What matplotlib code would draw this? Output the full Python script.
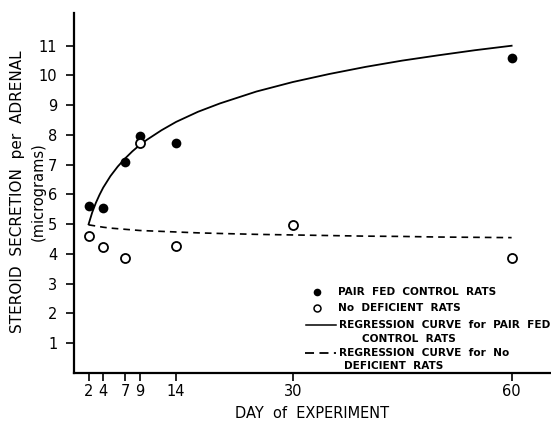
import matplotlib
matplotlib.use("Agg")
import matplotlib.pyplot as plt

# observed points
days_fed = [2, 4, 7, 9, 14, 60]
steroid_fed = [5.6, 5.55, 7.08, 7.95, 7.72, 10.6]
days_def = [2, 4, 7, 9, 14, 30, 60]
steroid_def = [4.62, 4.24, 3.87, 7.72, 4.26, 4.97, 3.85]

# regression curves
curve_days = [2, 2.5, 3, 3.5, 4, 5, 6, 7, 8, 9, 10, 12, 14, 17, 20, 25, 30,
              35, 40, 45, 50, 55, 60]
curve_fed = [5.0, 5.4, 5.72, 5.99, 6.23, 6.62, 6.94, 7.21, 7.45, 7.66, 7.84,
             8.16, 8.44, 8.78, 9.06, 9.46, 9.78, 10.05, 10.29, 10.5, 10.68,
             10.85, 11.0]
curve_def = [4.98, 4.96, 4.94, 4.92, 4.9, 4.87, 4.85, 4.83, 4.81, 4.79, 4.78,
             4.76, 4.74, 4.71, 4.69, 4.66, 4.64, 4.62, 4.6, 4.59, 4.57, 4.56,
             4.55]

xticks = [2, 4, 7, 9, 14, 30, 60]
yticks = [1, 2, 3, 4, 5, 6, 7, 8, 9, 10, 11]

plt.rcParams['font.family'] = ['DejaVu Sans']

fig = plt.figure(figsize=(5.51, 4.23), dpi=100)
ax = fig.add_axes([74 / 551, 50 / 423, 477 / 551, 360 / 423])
ax.set_xlim(0, 65.4)
ax.set_ylim(0, 12.1)

ax.plot(curve_days, curve_fed, color='black', lw=1.3)
ax.plot(curve_days, curve_def, color='black', lw=1.2, dashes=(4, 3))
ax.plot(days_fed, steroid_fed, 'o', color='black', ms=7, mew=0)
ax.plot(days_def, steroid_def, 'o', mfc='white', mec='black', ms=6.5, mew=1.3)

for s in ['top', 'right']:
    ax.spines[s].set_visible(False)
for s in ['left', 'bottom']:
    ax.spines[s].set_linewidth(1.6)

ax.set_xticks(xticks)
ax.set_xticklabels([str(d) for d in xticks])
ax.set_yticks(yticks)
ax.set_yticklabels([str(v) for v in yticks])
ax.tick_params(axis='both', direction='out', length=6, width=1.2, labelsize=10.5)
ax.tick_params(axis='x', pad=2)
ax.tick_params(axis='y', pad=6)

ax.set_xlabel('DAY  of  EXPERIMENT', fontsize=10.5, labelpad=5)
fig.text(18 / 551, 1 - 192 / 423, 'STEROID  SECRETION  per  ADRENAL', rotation=90,
         ha='center', va='center', fontsize=11)
fig.text(38 / 551, 1 - 192 / 423, '(micrograms)', rotation=90,
         ha='center', va='center', fontsize=10.5)

# legend, drawn by hand in figure pixels
def px(x, y):
    return x / 551, 1 - y / 423

fs = 7.6
fig.lines.append(plt.Line2D([px(317, 0)[0]], [px(0, 292)[1]], marker='o', color='black',
                            ms=5.5, mew=0, ls='none', transform=fig.transFigure))
fig.lines.append(plt.Line2D([px(317, 0)[0]], [px(0, 308)[1]], marker='o', mfc='white',
                            mec='black', ms=5, mew=1.1, ls='none', transform=fig.transFigure))
fig.lines.append(plt.Line2D([px(306, 0)[0], px(336, 0)[0]], [px(0, 325)[1]] * 2,
                            color='black', lw=1.1, transform=fig.transFigure))
fig.lines.append(plt.Line2D([px(305, 0)[0], px(336, 0)[0]], [px(0, 353)[1]] * 2,
                            color='black', lw=1.3, dashes=(5, 3), transform=fig.transFigure))
entries = [
    (338, 292, 'PAIR  FED  CONTROL  RATS'),
    (338, 308, 'No  DEFICIENT  RATS'),
    (339, 325, 'REGRESSION  CURVE  for  PAIR  FED'),
    (362, 339, 'CONTROL  RATS'),
    (339, 353, 'REGRESSION  CURVE  for  No'),
    (344, 366, 'DEFICIENT  RATS'),
]
for x, y, t in entries:
    fig.text(*px(x, y), t, ha='left', va='center', fontsize=fs, fontweight='bold')

fig.savefig('out.png', dpi=100)
